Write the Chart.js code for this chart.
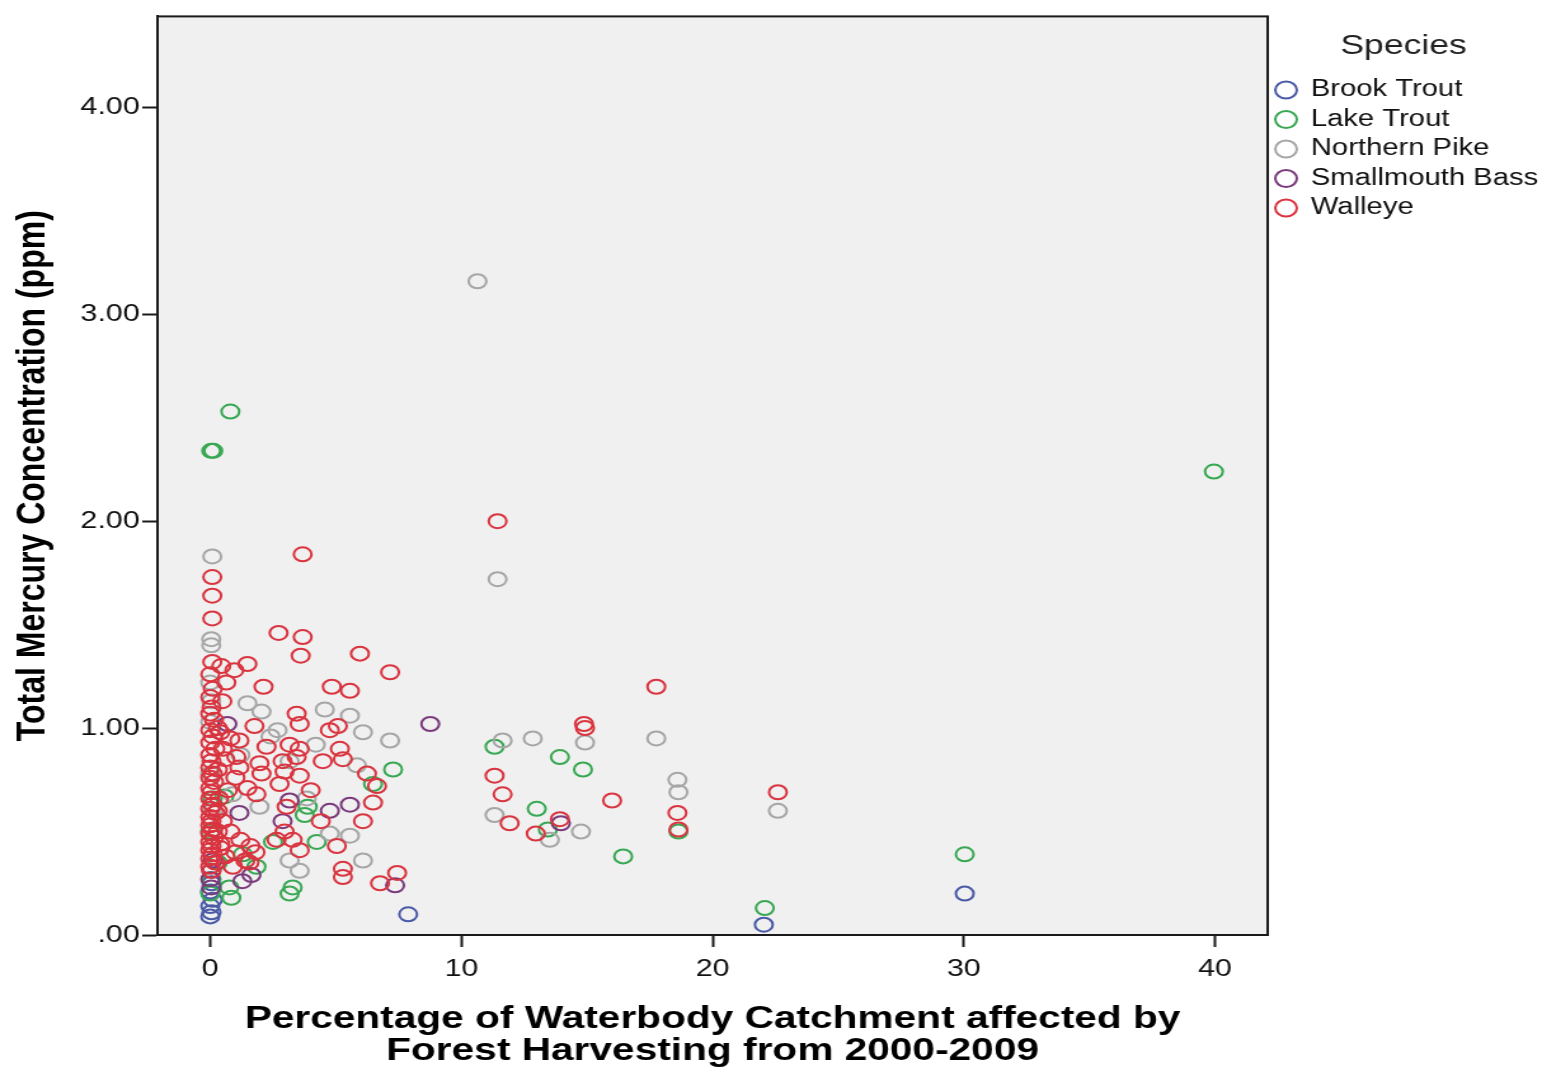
<!DOCTYPE html>
<html>
<head>
<meta charset="utf-8">
<title>Total Mercury Concentration vs Forest Harvesting</title>
<script src="https://cdn.jsdelivr.net/npm/chart.js@4/dist/chart.umd.min.js"></script>
<style>
  html, body { margin: 0; padding: 0; background: #ffffff; }
  #chart { display: block; }
</style>
</head>
<body>
<!-- the canvas is drawn at a narrower pixel width and shown stretched across the page -->
<canvas id="chart" width="1214" height="1069" style="width:1542px;height:1069px;"></canvas>
<script>
// Species shown in the legend, in legend order
const speciesNames = ['Brook Trout', 'Lake Trout', 'Northern Pike', 'Smallmouth Bass', 'Walleye'];
const speciesColors = ['#4b5aa6', '#38a853', '#a6a6a6', '#7a3a7c', '#d9343f'];

// [percent of catchment harvested 2000-2009, total mercury (ppm)]
const brookTrout = [
  [0.00, 0.09], [0.05, 0.11], [0.00, 0.14], [0.10, 0.17], [0.00, 0.21], [0.05, 0.25],
  [7.88, 0.10], [22.04, 0.05], [30.04, 0.20]
];

const lakeTrout = [
  [0.80, 2.53], [0.04, 2.34], [0.12, 2.34], [39.96, 2.24],
  [11.32, 0.91], [13.92, 0.86], [14.84, 0.80], [7.28, 0.80], [13.00, 0.61], [13.44, 0.51],
  [18.64, 0.50], [16.44, 0.38], [22.08, 0.13], [30.04, 0.39],
  [6.48, 0.73], [3.88, 0.62], [3.76, 0.58], [4.24, 0.45], [3.28, 0.23], [3.16, 0.20],
  [1.84, 0.33], [0.84, 0.18], [0.76, 0.23], [0.00, 0.20], [0.05, 0.27], [0.00, 0.50],
  [0.10, 0.66], [0.56, 0.67], [2.50, 0.45], [1.30, 0.39], [0.30, 0.35]
];

const northernPike = [
  [10.64, 3.16], [0.08, 1.83], [11.44, 1.72], [0.04, 1.43], [0.04, 1.40], [0.00, 1.22],
  [0.04, 1.13], [0.00, 1.03], [1.48, 1.12], [2.04, 1.08], [4.56, 1.09], [5.56, 1.06],
  [2.68, 0.99], [6.08, 0.98], [7.16, 0.94], [5.84, 0.82], [11.64, 0.94], [12.84, 0.95],
  [14.92, 0.93], [17.76, 0.95], [18.60, 0.75], [18.64, 0.69], [22.60, 0.60], [11.32, 0.58],
  [14.76, 0.50], [13.52, 0.46], [3.84, 0.66], [0.88, 0.68], [1.96, 0.62], [4.76, 0.49],
  [5.56, 0.48], [3.16, 0.36], [3.56, 0.31], [6.08, 0.36], [3.16, 0.84], [0.10, 0.60],
  [0.00, 0.78], [2.40, 0.96], [1.20, 0.87], [4.20, 0.92]
];

const smallmouthBass = [
  [8.76, 1.02], [0.68, 1.02], [3.16, 0.65], [4.76, 0.60], [5.56, 0.63], [2.88, 0.55],
  [1.28, 0.26], [1.64, 0.29], [7.36, 0.24], [13.96, 0.54], [0.04, 0.31], [0.00, 0.27],
  [0.04, 0.23], [1.16, 0.59], [0.10, 0.36]
];

const walleye = [
  [11.44, 2.00], [3.68, 1.84], [0.08, 1.73], [0.08, 1.64], [0.08, 1.53], [2.72, 1.46],
  [3.68, 1.44], [3.60, 1.35], [5.96, 1.36], [7.16, 1.27], [1.48, 1.31], [0.96, 1.28],
  [0.08, 1.32], [0.44, 1.30], [17.76, 1.20], [2.12, 1.20], [4.84, 1.20], [5.56, 1.18],
  [0.64, 1.22], [0.48, 1.13], [3.44, 1.07], [3.56, 1.02], [14.88, 1.02], [14.92, 1.00],
  [1.76, 1.01], [4.76, 0.99], [1.16, 0.94], [2.24, 0.91], [3.16, 0.92], [3.56, 0.90],
  [5.16, 0.90], [5.28, 0.85], [4.48, 0.84], [6.24, 0.78], [6.64, 0.72], [2.88, 0.84],
  [3.56, 0.77], [2.76, 0.73], [1.96, 0.83], [1.04, 0.86], [1.16, 0.81], [2.04, 0.78],
  [1.48, 0.71], [1.84, 0.68], [3.04, 0.62], [6.48, 0.64], [6.08, 0.55], [2.96, 0.50],
  [3.28, 0.46], [2.64, 0.46], [3.56, 0.41], [5.04, 0.43], [1.56, 0.35], [5.28, 0.32],
  [5.28, 0.28], [6.76, 0.25], [7.44, 0.30], [11.32, 0.77], [11.64, 0.68], [16.00, 0.65],
  [22.60, 0.69], [11.92, 0.54], [13.92, 0.56], [12.96, 0.49], [18.60, 0.59], [18.64, 0.51],
  [5.08, 1.01], [3.44, 0.86], [2.96, 0.79], [4.00, 0.70], [4.40, 0.55],
  // dense column of lakes with no recent harvesting
  [0.00, 1.26], [0.10, 1.19], [0.00, 1.15], [0.05, 1.10], [0.00, 1.07], [0.15, 1.04],
  [0.00, 0.99], [0.10, 0.96], [0.00, 0.93], [0.20, 0.90], [0.00, 0.87], [0.05, 0.84],
  [0.00, 0.81], [0.10, 0.78], [0.00, 0.76], [0.15, 0.74], [0.00, 0.71], [0.05, 0.69],
  [0.00, 0.66], [0.10, 0.63], [0.00, 0.61], [0.20, 0.59], [0.00, 0.57], [0.05, 0.55],
  [0.00, 0.53], [0.10, 0.51], [0.00, 0.49], [0.15, 0.47], [0.00, 0.45], [0.05, 0.43],
  [0.00, 0.41], [0.10, 0.39], [0.00, 0.37], [0.20, 0.35], [0.00, 0.33], [0.05, 0.31],
  [0.40, 0.42], [0.30, 0.50], [0.35, 0.66], [0.30, 0.80], [0.40, 0.98],
  // low-harvest cluster
  [0.50, 0.55], [0.80, 0.50], [1.20, 0.46], [1.60, 0.43], [1.00, 0.40], [0.60, 0.38],
  [1.40, 0.36], [0.40, 0.44], [0.90, 0.33], [1.80, 0.40], [0.30, 0.60], [0.70, 0.70],
  [1.00, 0.76], [0.50, 0.90], [0.80, 0.95], [0.30, 1.00], [0.60, 0.85]
];

const seriesPoints = [brookTrout, lakeTrout, northernPike, smallmouthBass, walleye];

// Axis ticks and ranges
const xTickValues = [0, 10, 20, 30, 40];
const yTickValues = [0, 1, 2, 3, 4];
const xRange = [-2.1, 42.1];
const yRange = [0, 4.44];

const FONT = "'Liberation Sans', Arial, Helvetica, sans-serif";

// Grey plot panel with a black frame around it
const plotFrame = {
  id: 'plotFrame',
  beforeDraw(chart) {
    const { ctx, chartArea: a } = chart;
    ctx.save();
    ctx.fillStyle = '#f0f0f0';
    ctx.fillRect(a.left, a.top, a.right - a.left, a.bottom - a.top);
    ctx.restore();
  },
  afterDraw(chart) {
    const { ctx, chartArea: a } = chart;
    ctx.save();
    ctx.strokeStyle = '#1a1a1a';
    ctx.lineWidth = 2;
    ctx.strokeRect(a.left, a.top, a.right - a.left, a.bottom - a.top);
    ctx.restore();
  }
};

const datasets = speciesNames.map((name, i) => ({
  label: name,
  data: seriesPoints[i].map(p => ({ x: p[0], y: p[1] })),
  borderColor: speciesColors[i],
  backgroundColor: 'rgba(0,0,0,0)',
  pointBorderColor: speciesColors[i],
  pointBackgroundColor: 'rgba(0,0,0,0)',
  pointRadius: 7,
  pointBorderWidth: 2,
  pointStyle: 'circle',
  borderWidth: 2,
  showLine: false,
  order: name === 'Walleye' ? 0 : 5 - i
}));

new Chart(document.getElementById('chart'), {
  type: 'scatter',
  data: { datasets },
  plugins: [plotFrame],
  options: {
    responsive: false,
    animation: false,
    events: [],
    layout: { padding: { left: 0, top: 12, right: 2, bottom: 0 } },
    plugins: {
      tooltip: { enabled: false },
      legend: {
        position: 'right',
        align: 'start',
        maxWidth: 214,
        title: {
          display: true,
          text: 'Species',
          color: '#222',
          font: { family: FONT, size: 28, lineHeight: 1 },
          padding: { top: 20, bottom: 12 }
        },
        labels: {
          usePointStyle: true,
          boxWidth: 16,
          boxHeight: 12,
          padding: 6.5,
          color: '#111',
          font: { family: FONT, size: 23, lineHeight: 1 },
          sort: (a, b) => a.datasetIndex - b.datasetIndex
        }
      }
    },
    scales: {
      x: {
        type: 'linear',
        min: xRange[0],
        max: xRange[1],
        afterFit: s => { s.height = 134; },
        afterBuildTicks: s => { s.ticks = xTickValues.map(v => ({ value: v })); },
        grid: { drawOnChartArea: false, drawTicks: true, tickLength: 12, tickWidth: 2, tickColor: '#1a1a1a' },
        border: { display: true, color: '#1a1a1a', width: 2 },
        ticks: {
          color: '#111',
          padding: 8,
          maxRotation: 0,
          font: { family: FONT, size: 24 },
          callback: v => String(v)
        },
        title: {
          display: true,
          text: ['Percentage of Waterbody Catchment affected by', 'Forest Harvesting from 2000-2009'],
          color: '#000',
          font: { family: FONT, size: 32, weight: 'bold', lineHeight: 1 },
          padding: { top: 0, bottom: 2 }
        }
      },
      y: {
        type: 'linear',
        min: yRange[0],
        max: yRange[1],
        afterFit: s => { s.width = 124; },
        afterBuildTicks: s => { s.ticks = yTickValues.map(v => ({ value: v })); },
        grid: { drawOnChartArea: false, drawTicks: true, tickLength: 12, tickWidth: 2, tickColor: '#1a1a1a' },
        border: { display: true, color: '#1a1a1a', width: 2 },
        ticks: {
          color: '#111',
          padding: 2,
          font: { family: FONT, size: 24 },
          callback: v => (v === 0 ? '.00' : v.toFixed(2))
        },
        title: {
          display: true,
          text: 'Total Mercury Concentration (ppm)',
          color: '#000',
          font: { family: FONT, size: 32, weight: 'bold', lineHeight: 1 },
          padding: { top: 10, bottom: 0 }
        }
      }
    }
  }
});
</script>
</body>
</html>
